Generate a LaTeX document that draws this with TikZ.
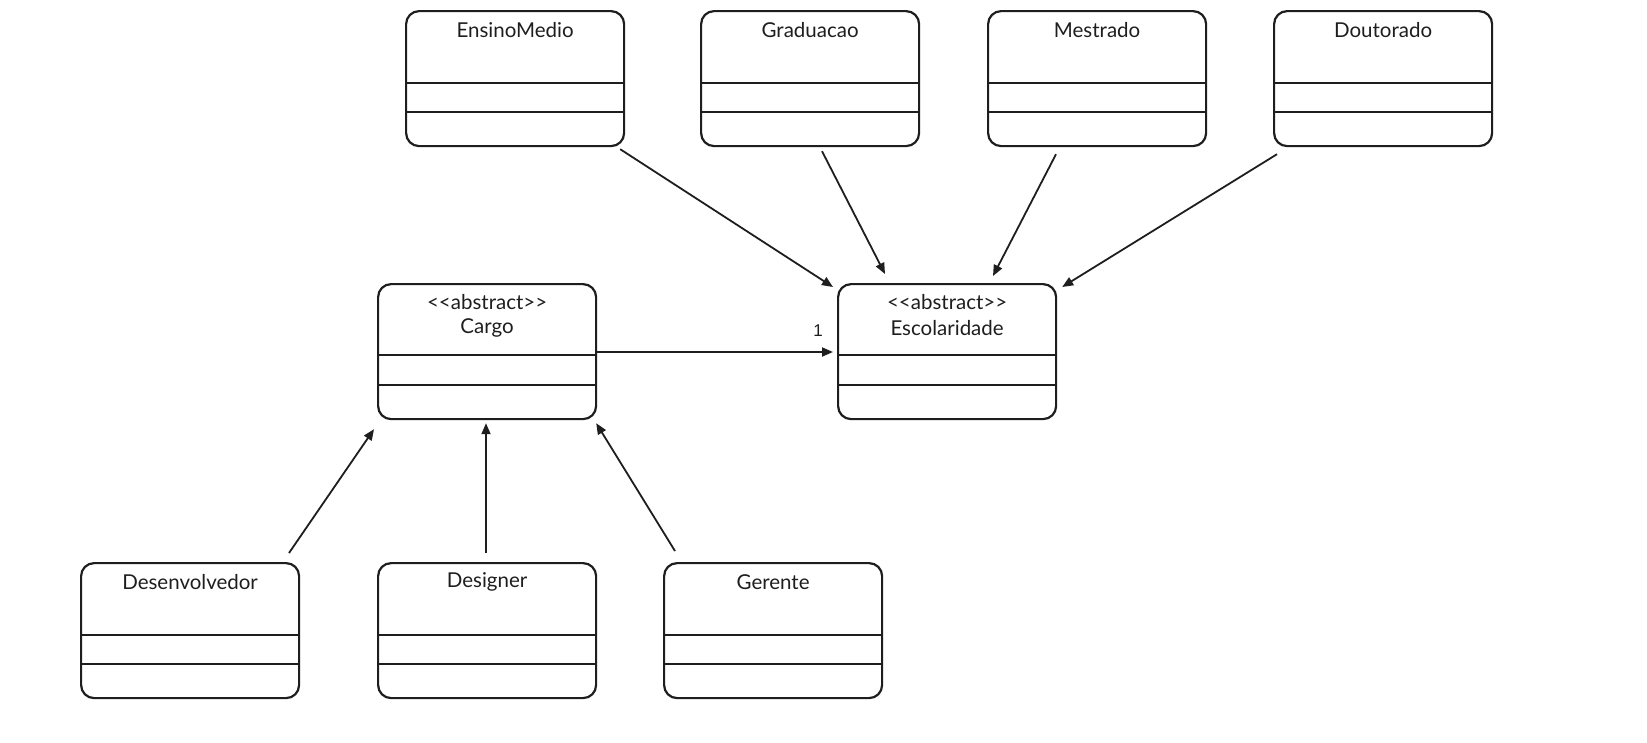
\documentclass[tikz,border=0pt]{standalone}
\usepackage{fontspec}
\setmainfont{Lato}
\newfontfamily\labelfont{Liberation Sans}
\usetikzlibrary{arrows.meta}
\definecolor{ink}{HTML}{1E1E1E}
\tikzset{
  x=1pt, y=-1pt,
  classbox/.style={draw=ink, line width=2.2pt, rounded corners=13pt, anchor=north west,
    minimum width=218pt, minimum height=135pt, inner sep=0pt},
  sepline/.style={draw=ink, line width=2.2pt},
  title/.style={font=\fontsize{20.5}{24}\selectfont, text=ink, anchor=center},
  arr/.style={draw=ink, line width=1.8pt, -{Triangle[length=11pt,width=9pt]}},
  mult/.style={font=\labelfont\fontsize{17}{20}\selectfont, text=ink}
}
\newcommand{\umlbox}[4]{%
  \node[classbox] (#1) at (#2,#3) {};
  \draw[sepline] ([yshift=-73pt]#1.north west) -- ([yshift=-73pt]#1.north east);
  \draw[sepline] ([yshift=-102pt]#1.north west) -- ([yshift=-102pt]#1.north east);
  \node[title] (#1t) at ([yshift=-20pt]#1.north) {#4};
}
\newcommand{\abstr}{<{}<abstract>{}>}
\begin{document}
\begin{tikzpicture}
\useasboundingbox (0,0) rectangle (1647,742);
\umlbox{em}{405}{10}{EnsinoMedio}
\umlbox{gr}{700}{10}{Graduacao}
\umlbox{me}{987}{10}{Mestrado}
\umlbox{dr}{1273}{10}{Doutorado}
\umlbox{dev}{80}{562}{Desenvolvedor}
\umlbox{des}{377}{562}{Designer}
\umlbox{ger}{663}{562}{Gerente}
\node[classbox] (cargo) at (377,283) {};
\draw[sepline] ([yshift=-72pt]cargo.north west) -- ([yshift=-72pt]cargo.north east);
\draw[sepline] ([yshift=-102pt]cargo.north west) -- ([yshift=-102pt]cargo.north east);
\node[title] (cargoa) at ([yshift=-19pt]cargo.north) {\abstr};
\node[title] (cargot) at ([yshift=-45pt]cargo.north) {Cargo};
\node[classbox] (esc) at (837,283) {};
\draw[sepline] ([yshift=-72pt]esc.north west) -- ([yshift=-72pt]esc.north east);
\draw[sepline] ([yshift=-102pt]esc.north west) -- ([yshift=-102pt]esc.north east);
\node[title] (esca) at ([yshift=-19pt]esc.north) {\abstr};
\node[title] (esct) at ([yshift=-45pt]esc.north) {Escolaridade};
% arrows
\draw[arr] ([shift={(-5,2)}]em.south east) -- ([shift={(-4,4)}]esc.north west);
\draw[arr] ([shift={(122,4)}]gr.south west) -- ([shift={(48,-9)}]esc.north west);
\draw[arr] ([shift={(69,7)}]me.south west) -- ([shift={(156,-7)}]esc.north west);
\draw[arr] ([shift={(4,7)}]dr.south west) -- ([shift={(5,4)}]esc.north east);
\draw[arr] ([shift={(0,69)}]cargo.north east) -- ([shift={(-4,69)}]esc.north west)
  node[mult, pos=1, xshift=-15pt, yshift=21pt] (one) {1};
\draw[arr] ([shift={(209,-9)}]dev.north west) -- ([shift={(-3,9)}]cargo.south west);
\draw[arr] ([shift={(109,-9)}]des.north west) -- ([shift={(109,3)}]cargo.south west);
\draw[arr] ([shift={(12,-11)}]ger.north west) -- ([shift={(-1,3)}]cargo.south east);
\end{tikzpicture}
\end{document}
